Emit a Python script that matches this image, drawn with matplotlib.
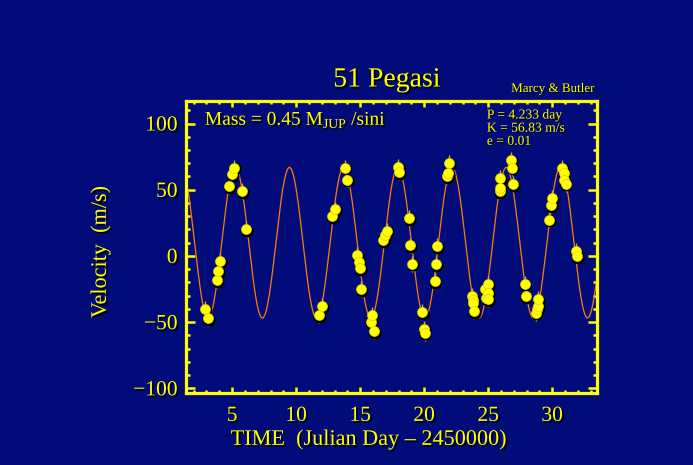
import numpy as np
import matplotlib
matplotlib.use("Agg")
import matplotlib.pyplot as plt
import matplotlib.patheffects as pe
from matplotlib.ticker import MultipleLocator

# ---- data ----
time = [2.89, 3.10, 3.80, 3.91, 4.09, 4.79, 4.98, 5.13, 5.78, 6.09,
        11.82, 12.03, 12.81, 13.05, 13.80, 14.01, 14.77, 14.90, 15.00, 15.10,
        15.81, 15.91, 16.07, 16.80, 16.95, 17.10,
        17.94, 18.07, 18.80, 18.93, 19.06, 19.84, 19.98, 20.03, 20.81, 20.94,
        21.04, 21.80, 21.90, 21.92,
        23.75, 23.80, 23.85, 23.93, 24.79, 24.82, 24.97, 24.99, 25.00,
        25.89, 25.94, 25.96, 26.80, 26.88, 26.93, 27.84, 27.92,
        28.75, 28.80, 28.88, 28.93, 29.79, 29.92, 29.97,
        30.78, 30.89, 30.95, 31.04, 31.88, 31.92]
velocity = [-39.9, -46.7, -18.5, -11.7, -3.9, 52.7, 62.0, 66.6, 48.9, 20.5,
            -44.7, -37.9, 30.0, 35.1, 66.6, 57.7, 0.4, -4.2, -9.2, -24.8,
            -49.7, -44.7, -56.7, 12.0, 16.0, 19.0,
            67.3, 63.3, 28.8, 7.9, -5.9, -42.4, -55.0, -58.0, -19.0, -6.4,
            7.4, 60.2, 62.8, 70.3,
            -30.3, -33.0, -35.3, -41.6, -25.3, -31.6, -21.5, -27.8, -32.8,
            48.9, 51.5, 59.0, 72.8, 66.6, 54.0, -21.0, -30.3,
            -42.9, -40.0, -37.9, -32.8, 27.5, 38.1, 43.9,
            66.6, 62.8, 57.7, 54.5, 3.6, 0.0]
error = [6.0] * len(time)

# orbit fit parameters (as printed on the chart)
period = 4.233
semi_amp = 56.83
ecc = 0.01
gamma = 10.0
t_peak = 9.48

xticks = [5, 10, 15, 20, 25, 30]
yticks = [-100, -50, 0, 50, 100]

BG = "#010c7a"
YEL = "#ffff00"
shadow = [pe.SimplePatchShadow(offset=(1.3, -1.3), shadow_rgbFace="black", alpha=1.0), pe.Normal()]
shadow_s = [pe.SimplePatchShadow(offset=(0.8, -0.8), shadow_rgbFace="black", alpha=1.0), pe.Normal()]

plt.rcParams["font.family"] = ["Liberation Serif", "DejaVu Serif"]
plt.rcParams["mathtext.fontset"] = "custom"
plt.rcParams["mathtext.rm"] = "Liberation Serif"
plt.rcParams["axes.unicode_minus"] = True

fig = plt.figure(figsize=(6.93, 4.65), dpi=100, facecolor=BG)
ax = fig.add_axes([186/693, 1 - 393/465, 411/693, 292/465], facecolor=BG)

tm = np.linspace(1.0, 34.0, 2000)
model = gamma + semi_amp * np.cos(2 * np.pi * (tm - t_peak) / period)
ax.plot(tm, model, color="#ff7a10", lw=0.9, zorder=2)

ax.errorbar(time, velocity, yerr=error, fmt="none", ecolor="#b9b24a", elinewidth=1.0, zorder=3)
ax.plot(np.array(time) + 0.07, np.array(velocity) - 1.3, "o", ms=7.6, color="black", zorder=3.5)
ax.plot(time, velocity, "o", ms=7.2, mfc=YEL, mec="#e0d000", mew=0.5, zorder=4)

ax.set_xlim(1.4, 33.5)
ax.set_ylim(-103.5, 117)
ax.set_xticks(xticks)
ax.set_yticks(yticks)
ax.xaxis.set_minor_locator(MultipleLocator(1))
ax.yaxis.set_minor_locator(MultipleLocator(10))
ax.set_yticklabels(["\u2212100", "\u221250", "0", "50", "100"])

for s in ax.spines.values():
    s.set_color(YEL)
    s.set_linewidth(2.3)

ax.tick_params(axis="both", which="both", direction="in", colors=YEL,
               top=True, right=True, labelsize=15.5)
ax.tick_params(axis="x", which="major", length=4.5, width=1.8, pad=10)
ax.tick_params(axis="x", which="minor", length=2.2, width=1.8)
ax.tick_params(axis="y", which="major", length=6.5, width=1.8, pad=6)
ax.tick_params(axis="y", which="minor", length=3.2, width=1.8)
for lab in ax.get_xticklabels() + ax.get_yticklabels():
    lab.set_color(YEL)
    lab.set_path_effects(shadow)

ax.text(0.046, 0.935, r"Mass = 0.45 M$_{\mathrm{JUP}}$ /sini", transform=ax.transAxes,
        color=YEL, fontsize=14, va="center", ha="left", path_effects=shadow)
ax.text(0.732, 0.952, "P = 4.233 day", transform=ax.transAxes, color=YEL,
        fontsize=9.8, va="center", ha="left", path_effects=shadow_s)
ax.text(0.732, 0.907, "K = 56.83 m/s", transform=ax.transAxes, color=YEL,
        fontsize=9.8, va="center", ha="left", path_effects=shadow_s)
ax.text(0.732, 0.862, "e = 0.01", transform=ax.transAxes, color=YEL,
        fontsize=9.8, va="center", ha="left", path_effects=shadow_s)

fig.text(387/693, 1 - 80/465, "51 Pegasi", color=YEL, fontsize=20,
         ha="center", va="center", path_effects=shadow)
fig.text(594/693, 1 - 89/465, "Marcy & Butler", color=YEL, fontsize=9.4,
         ha="right", va="center", path_effects=shadow_s)
fig.text(369/693, 1 - 440/465, "TIME  (Julian Day \u2013 2450000)", color=YEL,
         fontsize=16, ha="center", va="center", path_effects=shadow)
fig.text(101/693, 1 - 252/465, "Velocity  (m/s)", color=YEL, fontsize=16,
         rotation=90, ha="center", va="center", path_effects=shadow)

fig.savefig("out.png", dpi=100, facecolor=BG)
